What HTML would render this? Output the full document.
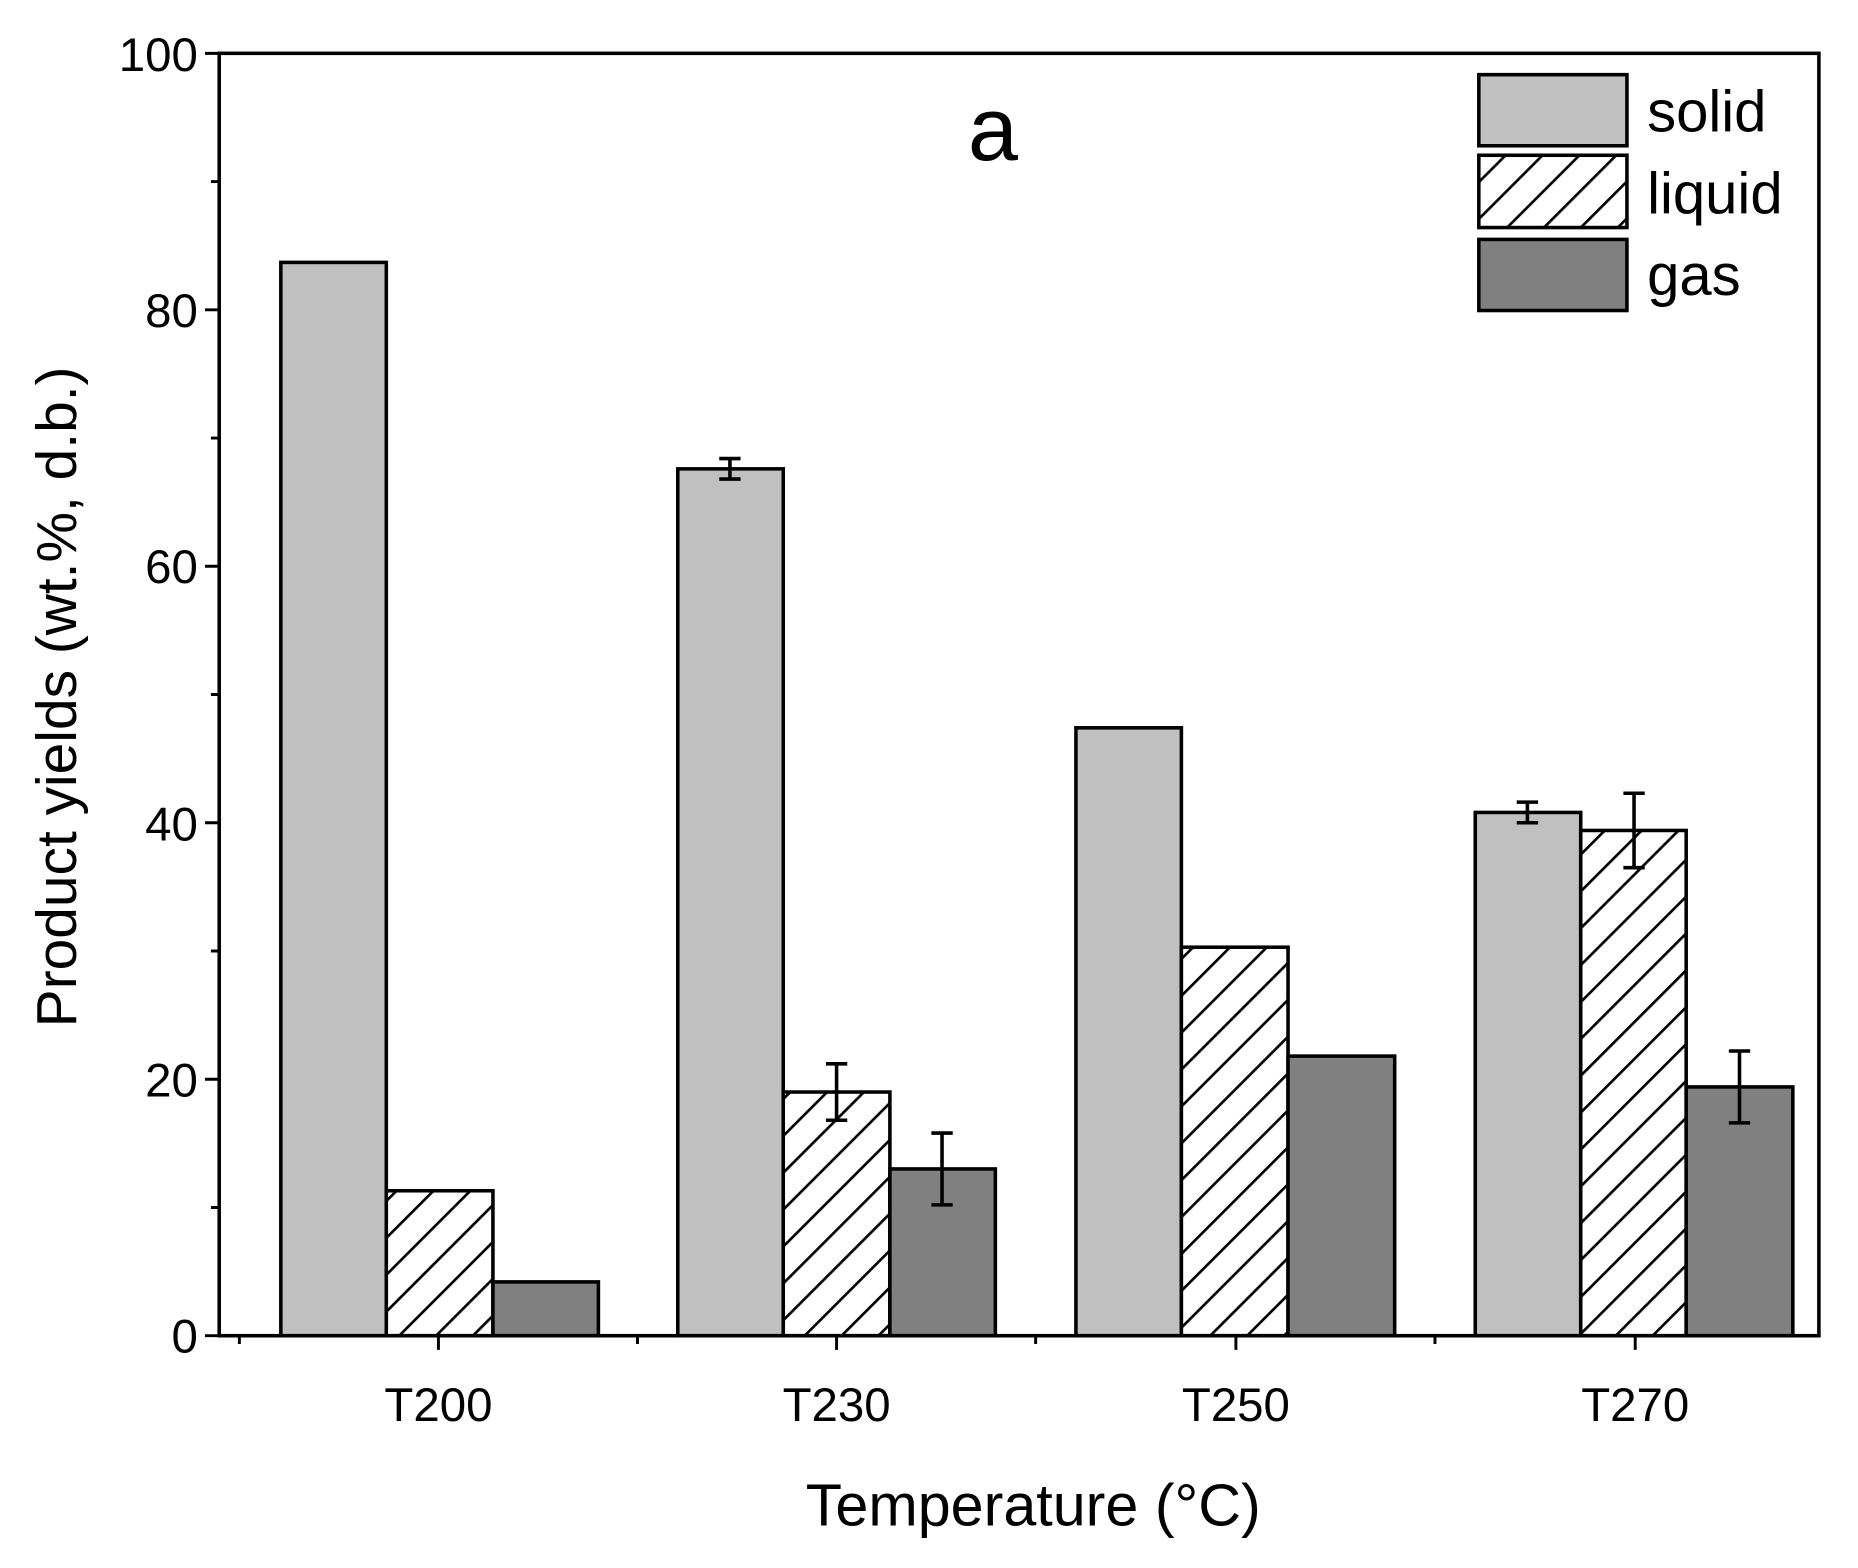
<!DOCTYPE html>
<html><head><style>html,body{margin:0;padding:0;background:#fff}svg{display:block}</style></head>
<body>
<svg width="1858" height="1568" viewBox="0 0 1568 1323" preserveAspectRatio="none" xmlns="http://www.w3.org/2000/svg" font-family="Liberation Sans, sans-serif">
<defs>
<pattern id="h" patternUnits="userSpaceOnUse" width="22" height="22" patternTransform="rotate(45)">
<rect width="22" height="22" fill="#fff"/><line x1="0" y1="0" x2="0" y2="22" stroke="#000" stroke-width="4.5"/>
</pattern>
</defs>
<rect width="1568" height="1323" fill="#fff"/>
<g stroke="#000" stroke-width="3">
<rect x="237" y="221.4" width="89" height="905.6" fill="#c0c0c0"/>
<rect x="326" y="1004.7" width="90" height="122.3" fill="url(#h)"/>
<rect x="416" y="1081.6" width="89" height="45.4" fill="#808080"/>
<rect x="572" y="395.6" width="89" height="731.4" fill="#c0c0c0"/>
<rect x="661" y="921.4" width="90" height="205.6" fill="url(#h)"/>
<rect x="751" y="986.3" width="89" height="140.7" fill="#808080"/>
<rect x="908" y="614.1" width="89" height="512.9" fill="#c0c0c0"/>
<rect x="997" y="799.2" width="90" height="327.8" fill="url(#h)"/>
<rect x="1087" y="891.1" width="90" height="235.9" fill="#808080"/>
<rect x="1245" y="685.5" width="89" height="441.5" fill="#c0c0c0"/>
<rect x="1334" y="700.7" width="89" height="426.3" fill="url(#h)"/>
<rect x="1423" y="917.1" width="90" height="209.9" fill="#808080"/>
</g>
<g stroke="#000" stroke-width="3" fill="none">
<path d="M616 386.9V404.2M607 386.9h18M607 404.2h18"/>
<path d="M706 897.6V945.2M697 897.6h18M697 945.2h18"/>
<path d="M795 956V1016.6M786 956h18M786 1016.6h18"/>
<path d="M1289 676.8V694.2M1280 676.8h18M1280 694.2h18"/>
<path d="M1379 669.3V732.1M1370 669.3h18M1370 732.1h18"/>
<path d="M1468 886.8V947.4M1459 886.8h18M1459 947.4h18"/>
</g>
<rect x="185" y="45" width="1350" height="1082" fill="none" stroke="#000" stroke-width="3"/>
<g stroke="#000" stroke-width="2.5">
<path d="M185 1127h-12M185 910.6h-12M185 694.2h-12M185 477.8h-12M185 261.4h-12M185 45h-12"/>
<path d="M185 1018.8h-7M185 802.4h-7M185 586h-7M185 369.6h-7M185 153.2h-7"/>
<path d="M370 1127v12M706 1127v12M1043 1127v12M1380 1127v12"/>
<path d="M202 1127v7M538 1127v7M874 1127v7M1211 1127v7"/>
</g>
<g font-size="40" fill="#000" text-anchor="end">
<text x="167" y="1141">0</text>
<text x="167" y="925">20</text>
<text x="167" y="709">40</text>
<text x="167" y="492">60</text>
<text x="167" y="276">80</text>
<text x="167" y="60">100</text>
</g>
<g font-size="40" fill="#000" text-anchor="middle">
<text x="370" y="1199">T200</text>
<text x="706" y="1199">T230</text>
<text x="1043" y="1199">T250</text>
<text x="1380" y="1199">T270</text>
</g>
<text x="872" y="1287" font-size="50" text-anchor="middle">Temperature (°C)</text>
<text transform="translate(64,588) rotate(-90)" font-size="48" text-anchor="middle">Product yields (wt.%, d.b.)</text>
<text x="838" y="135" font-size="76" text-anchor="middle">a</text>
<g stroke="#000" stroke-width="3">
<rect x="1248" y="63" width="125" height="60" fill="#c0c0c0"/>
<rect x="1248" y="131" width="125" height="61" fill="url(#h)"/>
<rect x="1248" y="202" width="125" height="60" fill="#808080"/>
</g>
<g font-size="49" fill="#000">
<text x="1390" y="111">solid</text>
<text x="1390" y="180">liquid</text>
<text x="1390" y="249">gas</text>
</g>
</svg>
</body></html>
